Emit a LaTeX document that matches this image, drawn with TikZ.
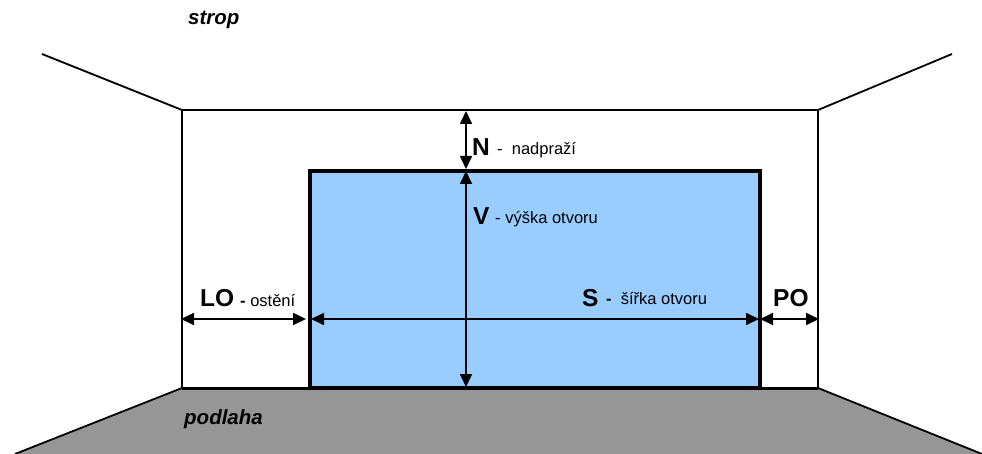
\documentclass[tikz,border=0pt]{standalone}
\usepackage{fontspec}
\setmainfont{Liberation Sans}
\usetikzlibrary{arrows.meta}
\definecolor{opening}{RGB}{153,204,255}
\definecolor{floorgrey}{RGB}{150,150,150}
\tikzset{
  wall/.style={draw=black,line width=1.8pt},
  dim/.style={line width=1.7pt,{Triangle[length=13pt,width=12pt]}-{Triangle[length=13pt,width=12pt]}},
  big/.style={inner sep=0pt,anchor=base west,font=\fontsize{24.5}{24}\selectfont\bfseries},
  small/.style={inner sep=0pt,anchor=base west,font=\fontsize{16.5}{18}\selectfont},
  place/.style={inner sep=0pt,anchor=base west,font=\fontsize{20.5}{22}\selectfont\bfseries\itshape}
}
\begin{document}
\begin{tikzpicture}[x=1pt,y=-1pt]
  \useasboundingbox (0,0) rectangle (982,454);
  \coordinate (wallNW) at (182,110);
  \coordinate (wallNE) at (818,110);
  \coordinate (wallSW) at (182,388);
  \coordinate (wallSE) at (818,388);
  \coordinate (ceilL) at (42,54);
  \coordinate (ceilR) at (952,54);
  \coordinate (floorL) at (15,454);
  \coordinate (floorR) at (982,454);
  \coordinate (doorNW) at (310,171);
  \coordinate (doorSE) at (760,388);
  \coordinate (topN) at (466,111);
  \coordinate (lowN) at (466,169);
  \coordinate (midV) at (466,171);
  \coordinate (botV) at (466,387);
  \coordinate (leftW) at (181,319);
  \coordinate (leftD) at (306,319);
  \coordinate (openL) at (311,319);
  \coordinate (openR) at (759,319);
  \coordinate (rightD) at (760,319);
  \coordinate (rightW) at (819,319);
  \fill [floorgrey] (wallSW) -- (wallSE) -- (floorR) -- (floorL) -- cycle;
  \draw [wall] (ceilL) -- (wallNW) -- (wallNE) -- (ceilR);
  \draw [wall] (wallNW) -- (wallSW) -- (floorL);
  \draw [wall] (wallNE) -- (wallSE) -- (floorR);
  \draw [wall,line width=3pt] (wallSW) -- (wallSE);
  \draw [fill=opening,line width=4pt] (doorNW) rectangle (doorSE);
  \draw [dim] (topN) -- (lowN);
  \draw [dim] (midV) -- (botV);
  \draw [dim] (leftW) -- (leftD);
  \draw [dim] (openL) -- (openR);
  \draw [dim] (rightD) -- (rightW);
  \node [place] at (188,25) (strop) {strop};
  \node [place] at (184,424) (podlaha) {podlaha};
  \node [big] at (472,156) (n) {N};
  \node [small] at (497,155) (nadprazi) {-\ \ nadpraží};
  \node [big] at (473,225) (v) {V};
  \node [small] at (495,224) (vyska) {- výška otvoru};
  \node [big] at (200,306) (lo) {LO};
  \node [small] at (240,306) (osteni) {{\bfseries -} ostění};
  \node [big] at (582,306) (s) {S};
  \node [small] at (606,305) (sirka) {{\bfseries -}\ \ šířka otvoru};
  \node [big] at (773,306) (po) {PO};
\end{tikzpicture}
\end{document}
